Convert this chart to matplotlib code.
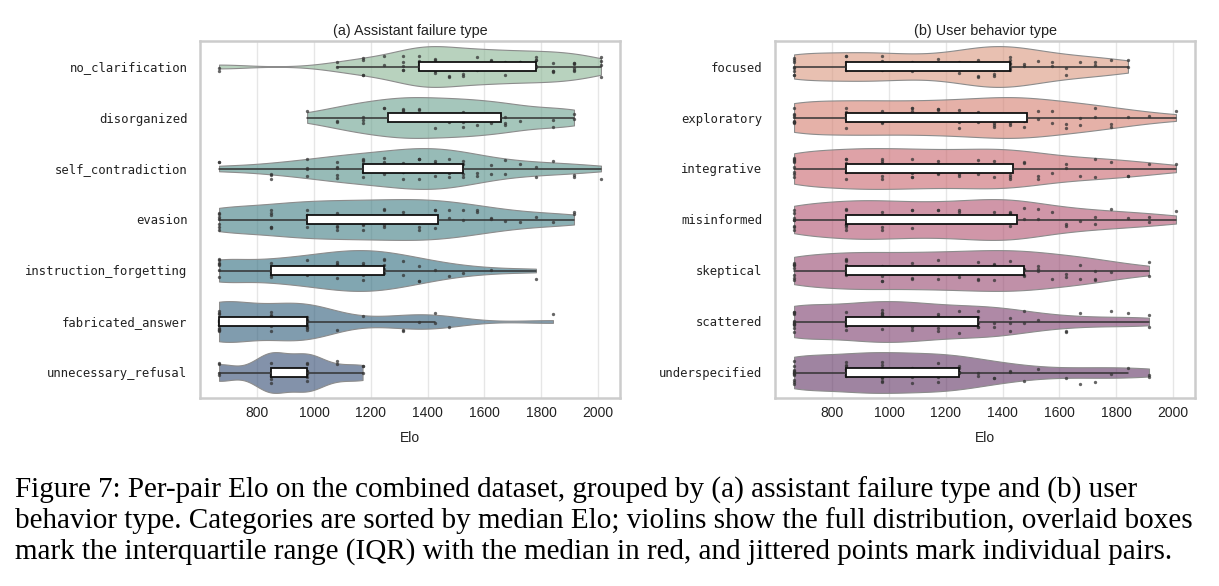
import numpy as np
import pandas as pd
import matplotlib
matplotlib.use("Agg")
import matplotlib.pyplot as plt
import seaborn as sns


# discrete Elo values that pairs take (x positions of the point columns)
elo_levels = [666, 848, 976, 1082, 1171, 1245, 1312, 1368, 1425, 1474,
              1524, 1573, 1622, 1672, 1725, 1781, 1841, 1915, 2010]

# number of pairs at each Elo level, same order as elo_levels
failure_types = ["no_clarification", "disorganized", "self_contradiction", "evasion",
                 "instruction_forgetting", "fabricated_answer", "unnecessary_refusal"]
failure_counts = [
    [2, 0, 0, 2, 4, 2, 5, 6, 7, 3, 4, 4, 4, 4, 3, 5, 4, 6, 4],
    [0, 0, 1, 2, 3, 2, 3, 3, 1, 2, 3, 1, 1, 3, 1, 0, 2, 2, 0],
    [2, 3, 4, 5, 5, 4, 5, 5, 4, 4, 4, 2, 2, 2, 1, 2, 1, 2, 1],
    [7, 6, 6, 5, 4, 4, 3, 3, 4, 2, 2, 2, 2, 1, 1, 1, 1, 2, 0],
    [7, 5, 5, 6, 5, 5, 2, 3, 1, 1, 1, 0, 1, 0, 0, 1, 0, 0, 0],
    [13, 6, 9, 1, 1, 0, 2, 1, 2, 1, 0, 0, 0, 0, 0, 0, 1, 0, 0],
    [4, 9, 8, 2, 3, 0, 0, 0, 0, 0, 0, 0, 0, 0, 0, 0, 0, 0, 0],
]

behavior_types = ["focused", "exploratory", "integrative", "misinformed",
                  "skeptical", "scattered", "underspecified"]
behavior_counts = [
    [8, 6, 5, 3, 2, 3, 4, 3, 6, 2, 1, 2, 2, 1, 2, 1, 2, 0, 0],
    [9, 7, 5, 4, 4, 3, 3, 3, 3, 4, 2, 2, 2, 2, 2, 2, 1, 1, 1],
    [9, 8, 6, 5, 4, 3, 3, 3, 4, 2, 2, 1, 2, 1, 2, 1, 2, 1, 1],
    [8, 8, 6, 4, 4, 3, 3, 3, 5, 2, 2, 1, 2, 1, 2, 1, 1, 2, 1],
    [8, 8, 5, 5, 4, 3, 4, 3, 2, 4, 3, 1, 2, 2, 3, 1, 0, 2, 0],
    [12, 8, 9, 6, 5, 2, 5, 2, 3, 2, 1, 0, 2, 1, 0, 1, 1, 2, 0],
    [12, 9, 9, 5, 6, 5, 2, 2, 2, 1, 1, 0, 1, 1, 1, 1, 1, 2, 0],
]

caption_lines = [
    "Figure 7: Per-pair Elo on the combined dataset, grouped by (a) assistant failure type and (b) user",
    "behavior type. Categories are sorted by median Elo; violins show the full distribution, overlaid boxes",
    "mark the interquartile range (IQR) with the median in red, and jittered points mark individual pairs.",
]


def to_frame(names, counts):
    rows = []
    for name, cnt in zip(names, counts):
        for v in np.repeat(elo_levels, cnt):
            rows.append((name, float(v)))
    return pd.DataFrame(rows, columns=["group", "elo"])


def panel(ax, names, counts, palette, title):
    df = to_frame(names, counts)
    colors = sns.color_palette(palette, len(names))
    sns.violinplot(data=df, x="elo", y="group", hue="group", order=names,
                   hue_order=names, palette=colors, legend=False, ax=ax,
                   inner=None, cut=0, density_norm="width", width=0.8,
                   bw_adjust=0.75, saturation=0.75, linewidth=0.8, linecolor="0.55")
    for coll in ax.collections:
        fc = coll.get_facecolor()
        fc[:, 3] = 0.6
        coll.set_facecolor(fc)

    np.random.seed(3)
    sns.stripplot(data=df, x="elo", y="group", order=names, ax=ax,
                  color="#333333", size=2.4, alpha=0.75, jitter=0.22,
                  linewidth=0, zorder=3)

    ax.boxplot([df.loc[df.group == n, "elo"].values for n in names],
               positions=range(len(names)), orientation="horizontal",
               widths=0.17, whis=1.55, showfliers=False, showcaps=False,
               patch_artist=True, manage_ticks=False, zorder=4,
               boxprops=dict(facecolor="white", edgecolor="#111111", linewidth=1.3),
               whiskerprops=dict(color="#333333", linewidth=1.1),
               medianprops=dict(linewidth=0))

    ax.set_xlim(599, 2077)
    ax.set_ylim(len(names) - 0.5, -0.5)
    ax.set_xticks([800, 1000, 1200, 1400, 1600, 1800, 2000])
    ax.set_yticks(range(len(names)))
    ax.set_yticklabels(names, family="DejaVu Sans Mono", fontsize=8.8, color="#222222")
    ax.tick_params(axis="x", labelsize=10, colors="#222222", length=0, pad=6)
    ax.tick_params(axis="y", length=0, pad=9)
    ax.grid(axis="x", color="#e6e6e6", linewidth=1.0)
    ax.grid(axis="y", visible=False)
    ax.set_axisbelow(True)
    for sp in ax.spines.values():
        sp.set_color("#cccccc")
        sp.set_linewidth(1.8)
    ax.set_xlabel("Elo", fontsize=10, color="#222222", labelpad=8)
    ax.set_ylabel("")
    ax.set_title(title, fontsize=10.4, color="#222222", pad=4)


sns.set_style("whitegrid")
plt.rcParams["font.family"] = ["Liberation Sans", "DejaVu Sans"]

fig = plt.figure(figsize=(12.19, 5.86), dpi=100)
ax_a = fig.add_axes([200 / 1219, 1 - 398 / 586, 420 / 1219, 357 / 586])
ax_b = fig.add_axes([775 / 1219, 1 - 398 / 586, 420 / 1219, 357 / 586])

panel(ax_a, failure_types, failure_counts, "crest", "(a) Assistant failure type")
panel(ax_b, behavior_types, behavior_counts, "flare", "(b) User behavior type")

for i, line in enumerate(caption_lines):
    fig.text(15 / 1219, 1 - (498 + 30.5 * i) / 586, line, family="Liberation Serif",
             fontsize=21, color="black", ha="left", va="baseline")

fig.savefig("out.png", dpi=100)
